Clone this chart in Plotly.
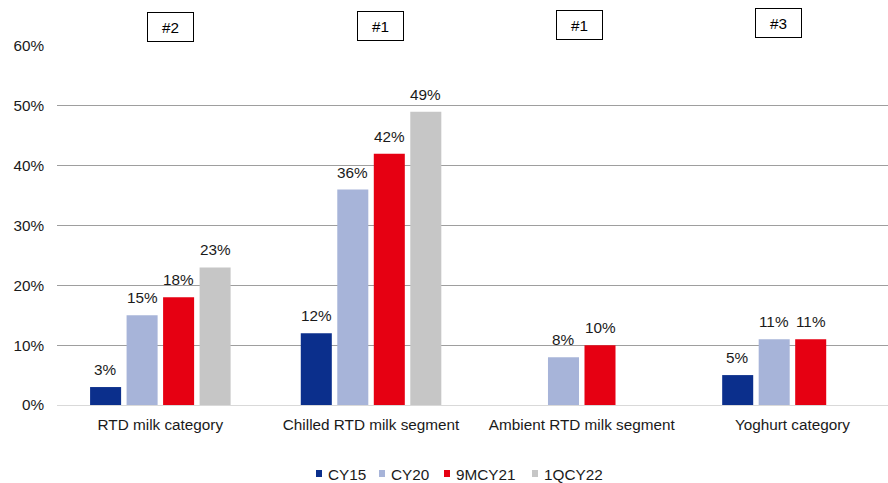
import plotly.graph_objects as go

categories = ["RTD milk category", "Chilled RTD milk segment",
              "Ambient RTD milk segment", "Yoghurt category"]
series_names = ["CY15", "CY20", "9MCY21", "1QCY22"]
cy15 = [3, 12, None, 5]
cy20 = [15, 36, 8, 11]
m9cy21 = [18, 42, 10, 11]
q1cy22 = [23, 49, None, None]
ranks = ["#2", "#1", "#1", "#3"]
y_ticks = [0, 10, 20, 30, 40, 50, 60]

colors = ["#0B2F8C", "#A7B4D9", "#E60012", "#C6C6C6"]
series_values = [cy15, cy20, m9cy21, q1cy22]
FONT = "Liberation Sans, Arial, sans-serif"
FS = 15.3
TXT = "#1a1a1a"

W, H = 888, 483
ML, MR, MT, MB = 57, 0, 46, 78
PW, PH = W - ML - MR, H - MT - MB
BARGAP, GROUPGAP = 0.307, 0.15
X_RANGE = [-0.4905, 3.4535]


def px_to_paper_x(px):
    return (px - ML) / PW


def px_to_paper_y(py):
    return (H - MB - py) / PH


fig = go.Figure()
for name, vals, col in zip(series_names, series_values, colors):
    fig.add_trace(go.Bar(
        name=name, x=categories, y=vals, marker_color=col,
        marker_line_width=0, offsetgroup=name, showlegend=False,
    ))

# value labels above each bar, placed at the centre of each bar slot
n = len(series_names)
slot = (1 - BARGAP) / n
for k, vals in enumerate(series_values):
    for i, v in enumerate(vals):
        if v is None:
            continue
        fig.add_annotation(
            x=i + (k - (n - 1) / 2) * slot, y=v, xref="x", yref="y",
            text=f"{v}%", showarrow=False, yanchor="bottom", yshift=7,
            font=dict(family=FONT, size=FS, color=TXT),
        )

# ranking boxes above the groups
box_shift = [10, 9.5, -2, -14]
box_y = [27, 26, 25, 23]
for i, (r, dx, py) in enumerate(zip(ranks, box_shift, box_y)):
    fig.add_annotation(
        x=i, xref="x", y=1, yref="paper", yshift=MT - py,
        yanchor="middle", xshift=dx, text=r, showarrow=False,
        bordercolor="#000", borderwidth=1, borderpad=0,
        width=45, height=28, bgcolor="white",
        font=dict(family=FONT, size=FS, color="#000"),
    )

# legend row along the bottom edge
legend_marker_px = [316, 379, 444, 532]
legend_y_px = 474
for name, col, mx in zip(series_names, colors, legend_marker_px):
    fig.add_shape(
        type="rect", xref="paper", yref="paper",
        x0=px_to_paper_x(mx), x1=px_to_paper_x(mx + 6),
        y0=px_to_paper_y(legend_y_px + 3), y1=px_to_paper_y(legend_y_px - 4),
        fillcolor=col, line_width=0,
    )
    fig.add_annotation(
        x=px_to_paper_x(mx + 10), y=px_to_paper_y(legend_y_px),
        xref="paper", yref="paper", xanchor="left", yanchor="middle",
        text=name, showarrow=False,
        font=dict(family=FONT, size=FS, color=TXT),
    )

fig.update_layout(
    width=W, height=H,
    margin=dict(l=ML, r=MR, t=MT, b=MB, autoexpand=False),
    paper_bgcolor="white", plot_bgcolor="white",
    barmode="group", bargap=BARGAP, bargroupgap=GROUPGAP,
    font=dict(family=FONT, size=FS, color=TXT),
    showlegend=False,
    xaxis=dict(range=X_RANGE, showgrid=False, showline=True,
               linecolor="#D9D9D9", linewidth=1, ticks="",
               ticklabelstandoff=6,
               tickfont=dict(family=FONT, size=FS, color=TXT)),
    yaxis=dict(range=[0, 60], tickvals=y_ticks,
               ticktext=[f"{t}%" for t in y_ticks],
               showgrid=True, gridcolor="#9E9E9E", gridwidth=1,
               zeroline=False, showline=False, ticks="",
               ticklabelstandoff=12,
               tickfont=dict(family=FONT, size=FS, color=TXT)),
)

fig.write_html("out.html")
